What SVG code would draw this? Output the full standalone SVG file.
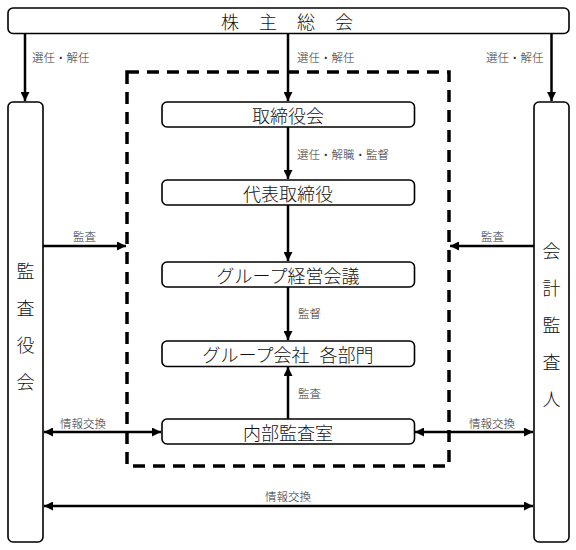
<svg xmlns="http://www.w3.org/2000/svg" width="576" height="550" viewBox="0 0 576 550">
<style>
.box{fill:#fff;stroke:#000;stroke-width:1.6}
.t{font-family:"Noto Sans CJK JP","Noto Sans CJK SC",sans-serif;font-size:18px;fill:#111;text-anchor:middle;dominant-baseline:central;font-weight:300}
.v{font-family:"Noto Sans CJK JP","Noto Sans CJK SC",sans-serif;font-size:18px;fill:#111;text-anchor:middle;dominant-baseline:central;font-weight:300}
.lb{font-family:"Noto Sans CJK JP","Noto Sans CJK SC",sans-serif;font-size:11.5px;fill:#333;dominant-baseline:central;font-weight:300}
.ln{stroke:#000;stroke-width:2.5;fill:none}
.dash{fill:none;stroke:#000;stroke-width:3.5;stroke-dasharray:12 8}
</style>
<defs>
<marker id="ah" viewBox="0 0 10 10" refX="10" refY="5" markerWidth="9" markerHeight="9" markerUnits="userSpaceOnUse" orient="auto-start-reverse">
<path d="M0,0 L10,5 L0,10 z" fill="#000"/>
</marker>
</defs>
<rect class="dash" x="127" y="72" width="322" height="394"/>
<g id="n-shareholders"><rect class="box" x="8" y="8" width="561" height="25.5" rx="5"/><text class="t" x="297" y="21" style="letter-spacing:20px">株主総会</text></g>
<g id="n-auditboard"><rect class="box" x="8" y="102" width="35" height="440" rx="5"/>
<text class="v"><tspan x="25.5" y="270">監</tspan><tspan x="25.5" y="307">査</tspan><tspan x="25.5" y="344">役</tspan><tspan x="25.5" y="381">会</tspan></text></g>
<g id="n-accountant"><rect class="box" x="534" y="102" width="35" height="440" rx="5"/>
<text class="v"><tspan x="551.5" y="250">会</tspan><tspan x="551.5" y="287">計</tspan><tspan x="551.5" y="324">監</tspan><tspan x="551.5" y="361">査</tspan><tspan x="551.5" y="398">人</tspan></text></g>
<g id="n-board"><rect class="box" x="162" y="102" width="252.5" height="25" rx="5"/><text class="t" x="288" y="114.5">取締役会</text></g>
<g id="n-ceo"><rect class="box" x="162" y="180" width="252.5" height="25" rx="5"/><text class="t" x="288" y="192.5">代表取締役</text></g>
<g id="n-mgmt"><rect class="box" x="162" y="262" width="252.5" height="25" rx="5"/><text class="t" x="288" y="274.5">グループ経営会議</text></g>
<g id="n-group"><rect class="box" x="162" y="341" width="252.5" height="25.5" rx="5"/><text class="t" x="288" y="353.5" style="word-spacing:6px">グループ会社 各部門</text></g>
<g id="n-internal"><rect class="box" x="162" y="419" width="252.5" height="25" rx="5"/><text class="t" x="288" y="431.5">内部監査室</text></g>
<g id="connectors">
<line class="ln" x1="25" y1="33.5" x2="25" y2="101" marker-end="url(#ah)"/>
<line class="ln" x1="288" y1="33.5" x2="288" y2="101" marker-end="url(#ah)"/>
<line class="ln" x1="551.5" y1="33.5" x2="551.5" y2="101" marker-end="url(#ah)"/>
<line class="ln" x1="288" y1="127" x2="288" y2="179" marker-end="url(#ah)"/>
<line class="ln" x1="288" y1="205" x2="288" y2="261" marker-end="url(#ah)"/>
<line class="ln" x1="288" y1="287" x2="288" y2="340" marker-end="url(#ah)"/>
<line class="ln" x1="288" y1="419" x2="288" y2="367" marker-end="url(#ah)"/>
<line class="ln" x1="43" y1="246" x2="126" y2="246" marker-end="url(#ah)"/>
<line class="ln" x1="534" y1="246" x2="450" y2="246" marker-end="url(#ah)"/>
<line class="ln" x1="44" y1="432" x2="161" y2="432" marker-start="url(#ah)" marker-end="url(#ah)"/>
<line class="ln" x1="415" y1="432" x2="533" y2="432" marker-start="url(#ah)" marker-end="url(#ah)"/>
<line class="ln" x1="44" y1="506" x2="533" y2="506" marker-start="url(#ah)" marker-end="url(#ah)"/>
<text class="lb" x="32" y="57">選任・解任</text>
<text class="lb" x="297" y="57">選任・解任</text>
<text class="lb" x="486" y="57">選任・解任</text>
<text class="lb" x="297" y="154">選任・解職・監督</text>
<text class="lb" x="73" y="236">監査</text>
<text class="lb" x="481" y="236">監査</text>
<text class="lb" x="298" y="313">監督</text>
<text class="lb" x="298" y="393">監査</text>
<text class="lb" x="60" y="423">情報交換</text>
<text class="lb" x="469" y="423">情報交換</text>
<text class="lb" x="265" y="496">情報交換</text>
</g>
</svg>
